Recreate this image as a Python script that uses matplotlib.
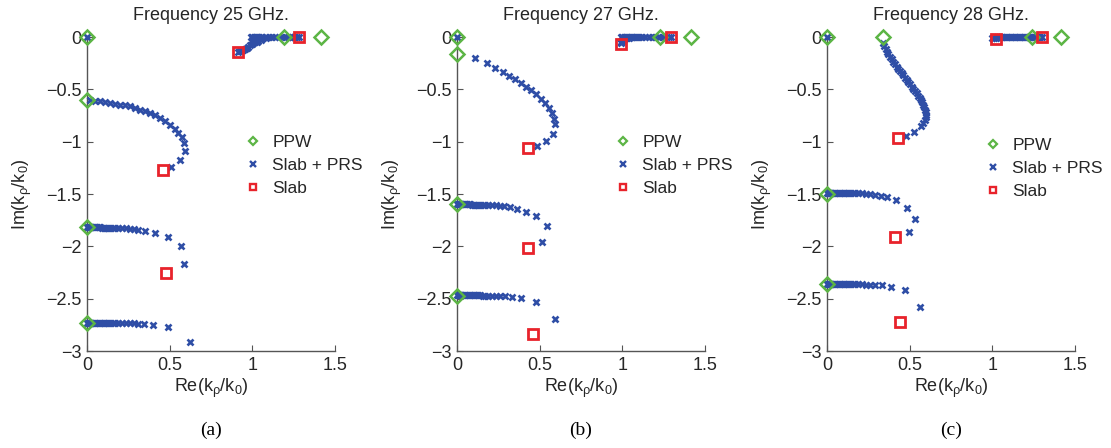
import matplotlib
matplotlib.use("Agg")
import matplotlib.pyplot as plt
from matplotlib.lines import Line2D

plt.rcParams['font.family'] = ['Liberation Sans', 'DejaVu Sans']
plt.rcParams['mathtext.default'] = 'regular'

green = '#5cb545'
blue = '#2f4ea6'
red = '#e8232b'
axcol = '#555555'
txtcol = '#262626'

freqs = [25, 27, 28]
captions = ['(a)', '(b)', '(c)']

# ---- 25 GHz ----
a_ppw_re = [0, 0, 0, 0, 1.19, 1.415]
a_ppw_im = [0, -0.60, -1.82, -2.73, 0, 0]
a_slab_re = [1.28, 0.915, 0.46, 0.475]
a_slab_im = [0, -0.145, -1.27, -2.25]

a_prs0_re = [0.0]
a_prs0_im = [0.0]
a_top_re = [0.915, 0.925, 0.935, 0.945, 0.955, 0.965, 0.976, 0.986, 0.996, 1.006, 1.016, 1.026, 1.036, 1.05, 1.067, 1.08,
            0.99, 1.0, 1.01, 1.02, 1.03, 1.04, 1.05, 1.06, 1.08, 1.10, 1.12, 1.14, 1.16, 1.18, 1.20, 1.215, 1.23,
            1.24, 1.25, 1.26, 1.27, 1.28]
a_top_im = [-0.14, -0.135, -0.128, -0.124, -0.115, -0.104, -0.092, -0.081, -0.07, -0.06, -0.051, -0.043, -0.035, -0.024,
            -0.012, -0.007,
            -0.003, -0.003, -0.003, -0.003, -0.003, -0.003, -0.003, -0.003, -0.003, -0.003, -0.003, -0.003, -0.003,
            -0.003, -0.003, -0.003, -0.003, -0.003, -0.003, -0.003, -0.003, -0.003]
a_b1_re = [0.02, 0.048, 0.079, 0.109, 0.139, 0.169, 0.200, 0.230, 0.260, 0.290, 0.321, 0.351, 0.381, 0.411, 0.442,
           0.472, 0.502, 0.532, 0.552, 0.573, 0.587, 0.595, 0.563, 0.508]
a_b1_im = [-0.60, -0.607, -0.616, -0.622, -0.632, -0.638, -0.648, -0.654, -0.664, -0.679, -0.695, -0.711, -0.727,
           -0.749, -0.775, -0.806, -0.838, -0.876, -0.917, -0.959, -1.013, -1.092, -1.178, -1.241]
a_b2_re = [0, 0.005, 0.01, 0.015, 0.02, 0.025, 0.03, 0.04, 0.05, 0.06, 0.07, 0.08, 0.09, 0.10, 0.11, 0.12, 0.13,
           0.14, 0.155, 0.17, 0.19, 0.21, 0.235, 0.26, 0.285, 0.31, 0.351, 0.411, 0.488, 0.566, 0.585]
a_b2_im = [-1.82, -1.82, -1.82, -1.82, -1.82, -1.82, -1.82, -1.82, -1.82, -1.82, -1.82, -1.82, -1.821, -1.821,
           -1.821, -1.821, -1.822, -1.822, -1.822, -1.823, -1.824, -1.825, -1.827, -1.83, -1.834, -1.84, -1.854,
           -1.87, -1.908, -1.997, -2.165]
a_b3_re = [0, 0.005, 0.01, 0.015, 0.02, 0.025, 0.03, 0.04, 0.05, 0.06, 0.07, 0.08, 0.09, 0.10, 0.11, 0.12, 0.13,
           0.14, 0.155, 0.17, 0.19, 0.21, 0.235, 0.26, 0.285, 0.31, 0.342, 0.397, 0.488, 0.625]
a_b3_im = [-2.73, -2.73, -2.73, -2.73, -2.73, -2.73, -2.73, -2.73, -2.73, -2.73, -2.73, -2.73, -2.73, -2.73,
           -2.73, -2.731, -2.731, -2.731, -2.731, -2.732, -2.732, -2.733, -2.734, -2.735, -2.737, -2.739, -2.743,
           -2.752, -2.775, -2.91]

# ---- 27 GHz ----
b_ppw_re = [0, 0, 0, 0, 1.228, 1.415]
b_ppw_im = [0, -0.165, -1.60, -2.47, 0, 0]
b_slab_re = [1.295, 0.99, 0.43, 0.43, 0.46]
b_slab_im = [0, -0.065, -1.065, -2.02, -2.84]

b_prs0_re = [0.0]
b_prs0_im = [0.0]
b_top_re = [0.99, 0.993, 0.996, 1.0, 1.005, 1.01, 1.02, 1.03, 1.04,
            0.99, 1.0, 1.01, 1.02, 1.03, 1.04, 1.05, 1.06, 1.07, 1.08, 1.09, 1.10, 1.12, 1.14, 1.16, 1.18, 1.20,
            1.22, 1.24, 1.26, 1.28, 1.295]
b_top_im = [-0.06, -0.05, -0.042, -0.034, -0.026, -0.019, -0.012, -0.008, -0.005,
            -0.002, -0.002, -0.002, -0.002, -0.002, -0.002, -0.002, -0.002, -0.002, -0.002, -0.002, -0.002,
            -0.002, -0.002, -0.002, -0.002, -0.002, -0.002, -0.002, -0.002, -0.002, -0.002]
b_b1_re = [0.109, 0.18, 0.23, 0.276, 0.316, 0.351, 0.385, 0.417, 0.448, 0.478, 0.506, 0.532, 0.555, 0.573, 0.587,
           0.593, 0.579, 0.537, 0.483]
b_b1_im = [-0.203, -0.25, -0.292, -0.33, -0.369, -0.403, -0.441, -0.476, -0.511, -0.546, -0.59, -0.632, -0.679,
           -0.727, -0.781, -0.832, -0.927, -0.997, -1.044]
b_b2_re = [0, 0.005, 0.01, 0.015, 0.02, 0.025, 0.03, 0.04, 0.05, 0.06, 0.07, 0.08, 0.09, 0.10, 0.11, 0.12, 0.13,
           0.14, 0.155, 0.17, 0.19, 0.21, 0.235, 0.26, 0.285, 0.32, 0.36, 0.417, 0.48, 0.545, 0.517]
b_b2_im = [-1.60, -1.60, -1.60, -1.60, -1.60, -1.60, -1.60, -1.60, -1.60, -1.60, -1.60, -1.60, -1.601, -1.601,
           -1.601, -1.601, -1.602, -1.602, -1.602, -1.603, -1.604, -1.605, -1.607, -1.61, -1.614, -1.622, -1.64,
           -1.673, -1.71, -1.81, -1.958]
b_b3_re = [0, 0.005, 0.01, 0.015, 0.02, 0.025, 0.03, 0.04, 0.05, 0.06, 0.07, 0.08, 0.09, 0.10, 0.11, 0.12, 0.13,
           0.14, 0.155, 0.17, 0.19, 0.21, 0.235, 0.26, 0.29, 0.33, 0.385, 0.475, 0.59]
b_b3_im = [-2.468, -2.468, -2.468, -2.468, -2.468, -2.468, -2.468, -2.468, -2.468, -2.468, -2.468, -2.468,
           -2.468, -2.468, -2.469, -2.469, -2.469, -2.469, -2.47, -2.47, -2.471, -2.472, -2.473, -2.474, -2.477,
           -2.482, -2.495, -2.53, -2.69]

# ---- 28 GHz ----
c_ppw_re = [0, 0.337, 0, 0, 1.24, 1.415]
c_ppw_im = [0, 0, -1.50, -2.36, 0, 0]
c_slab_re = [1.30, 1.02, 0.43, 0.41, 0.44]
c_slab_im = [0, -0.02, -0.965, -1.91, -2.72]

c_prs0_re = [0.0]
c_prs0_im = [0.0]
c_top_re = [1.0, 1.01, 1.02, 1.03, 1.04, 1.05, 1.06, 1.07, 1.08, 1.09, 1.10, 1.11, 1.12, 1.13, 1.14, 1.15, 1.16,
            1.17, 1.18, 1.19, 1.20, 1.21, 1.22, 1.23, 1.24, 1.25, 1.26, 1.27, 1.28, 1.29, 1.30]
c_top_im = [-0.006, -0.005, -0.005, -0.004, -0.004, -0.004, -0.003, -0.003, -0.003, -0.003, -0.003, -0.003,
            -0.003, -0.003, -0.003, -0.003, -0.003, -0.003, -0.003, -0.003, -0.003, -0.003, -0.003, -0.003,
            -0.003, -0.003, -0.003, -0.003, -0.003, -0.003, -0.003]
c_b1_re = [0.337, 0.347, 0.357, 0.364, 0.371, 0.381, 0.391, 0.401, 0.411, 0.421, 0.431, 0.441, 0.452, 0.462,
           0.472, 0.482, 0.492, 0.502, 0.512, 0.522, 0.532, 0.543, 0.553, 0.561, 0.569, 0.576, 0.583, 0.589,
           0.593, 0.597, 0.599, 0.597, 0.593, 0.583, 0.569, 0.527, 0.478]
c_b1_im = [-0.06, -0.087, -0.114, -0.14, -0.165, -0.189, -0.213, -0.237, -0.26, -0.283, -0.305, -0.326, -0.346,
           -0.367, -0.387, -0.41, -0.432, -0.452, -0.473, -0.494, -0.514, -0.537, -0.559, -0.58, -0.60, -0.624,
           -0.648, -0.671, -0.695, -0.719, -0.743, -0.766, -0.79, -0.822, -0.854, -0.908, -0.949]
c_b2_re = [0, 0.005, 0.01, 0.015, 0.02, 0.025, 0.03, 0.04, 0.05, 0.06, 0.07, 0.08, 0.09, 0.10, 0.11, 0.12, 0.13,
           0.14, 0.155, 0.17, 0.19, 0.21, 0.235, 0.26, 0.29, 0.325, 0.36, 0.417, 0.484, 0.532, 0.493]
c_b2_im = [-1.49, -1.49, -1.49, -1.49, -1.49, -1.49, -1.49, -1.49, -1.49, -1.49, -1.49, -1.49, -1.491, -1.491,
           -1.491, -1.491, -1.492, -1.492, -1.492, -1.493, -1.494, -1.495, -1.497, -1.50, -1.505, -1.515, -1.53,
           -1.56, -1.632, -1.737, -1.86]
c_b3_re = [0, 0.005, 0.01, 0.015, 0.02, 0.025, 0.03, 0.04, 0.05, 0.06, 0.07, 0.08, 0.09, 0.10, 0.11, 0.12, 0.13,
           0.14, 0.155, 0.17, 0.19, 0.21, 0.235, 0.26, 0.29, 0.33, 0.385, 0.472, 0.562]
c_b3_im = [-2.36, -2.36, -2.36, -2.36, -2.36, -2.36, -2.36, -2.36, -2.36, -2.36, -2.36, -2.36, -2.36, -2.36,
           -2.361, -2.361, -2.361, -2.361, -2.362, -2.362, -2.363, -2.364, -2.365, -2.366, -2.368, -2.371,
           -2.384, -2.416, -2.584]

panels = [
    (a_ppw_re, a_ppw_im, a_slab_re, a_slab_im,
     [(a_prs0_re, a_prs0_im), (a_top_re, a_top_im), (a_b1_re, a_b1_im), (a_b2_re, a_b2_im), (a_b3_re, a_b3_im)]),
    (b_ppw_re, b_ppw_im, b_slab_re, b_slab_im,
     [(b_prs0_re, b_prs0_im), (b_top_re, b_top_im), (b_b1_re, b_b1_im), (b_b2_re, b_b2_im), (b_b3_re, b_b3_im)]),
    (c_ppw_re, c_ppw_im, c_slab_re, c_slab_im,
     [(c_prs0_re, c_prs0_im), (c_top_re, c_top_im), (c_b1_re, c_b1_im), (c_b2_re, c_b2_im), (c_b3_re, c_b3_im)]),
]

fig = plt.figure(figsize=(11.11, 4.48), dpi=100)
lefts = [87, 457, 827]
leg_tops = [0.688, 0.688, 0.678]

for i, (ppw_re, ppw_im, slab_re, slab_im, branches) in enumerate(panels):
    ax = fig.add_axes([lefts[i] / 1111, 1 - 351 / 448, 248 / 1111, 314 / 448])

    for bre, bim in branches:
        ax.plot(bre, bim, ls='none', marker='x', ms=5, mew=1.9, color=blue, clip_on=False, zorder=3)
    ax.plot(ppw_re, ppw_im, ls='none', marker='D', ms=7.5, mew=1.8, mfc='none', mec=green, clip_on=False, zorder=4)
    ax.plot(slab_re, slab_im, ls='none', marker='s', ms=6.5, mew=2.0, mfc='none', mec=red, clip_on=False, zorder=5)

    ax.set_xlim(0, 1.5)
    ax.set_ylim(-3, 0)
    ax.set_xticks([0, 0.5, 1, 1.5])
    ax.set_xticklabels(['0', '0.5', '1', '1.5'])
    ax.set_yticks([0, -0.5, -1, -1.5, -2, -2.5, -3])
    ax.set_yticklabels(['0', '\u22120.5', '\u22121', '\u22121.5', '\u22122', '\u22122.5', '\u22123'])
    for s in ['top', 'right']:
        ax.spines[s].set_visible(False)
    for s in ['left', 'bottom']:
        ax.spines[s].set_color(axcol)
        ax.spines[s].set_linewidth(1.0)
    ax.tick_params(direction='in', length=4, width=0.8, color=axcol, labelsize=13, labelcolor=txtcol, pad=4)

    ax.set_xlabel(r'Re(k$_{\rho}$/k$_{0}$)', fontsize=13, color=txtcol)
    ax.xaxis.set_label_coords(0.5, -0.12)
    ax.xaxis.label.set_va('center')
    ax.set_ylabel(r'Im(k$_{\rho}$/k$_{0}$)', fontsize=13, color=txtcol)
    ax.yaxis.set_label_coords(-0.26, 0.5)
    ax.yaxis.label.set_va('center')

    ax.text(0.5, 1.07, f'Frequency {freqs[i]} GHz.', transform=ax.transAxes, ha='center', va='center',
            fontsize=13, color=txtcol)

    handles = [
        Line2D([], [], ls='none', marker='D', ms=4.2, mew=1.6, mfc='none', mec=green),
        Line2D([], [], ls='none', marker='x', ms=4.8, mew=1.7, color=blue),
        Line2D([], [], ls='none', marker='s', ms=4.6, mew=1.7, mfc='none', mec=red),
    ]
    leg = ax.legend(handles, ['PPW', 'Slab + PRS', 'Slab'], loc='upper left', bbox_to_anchor=(0.635, leg_tops[i]),
                    frameon=False, fontsize=12.5, handlelength=1.0, handletextpad=0.6, borderpad=0,
                    borderaxespad=0, labelspacing=0.45)
    for t in leg.get_texts():
        t.set_color(txtcol)

    fig.text((lefts[i] + 124) / 1111, 1 - 430 / 448, captions[i], ha='center', va='center', fontsize=14,
             family='Liberation Serif', color='black')

fig.savefig('out.png', dpi=100)
